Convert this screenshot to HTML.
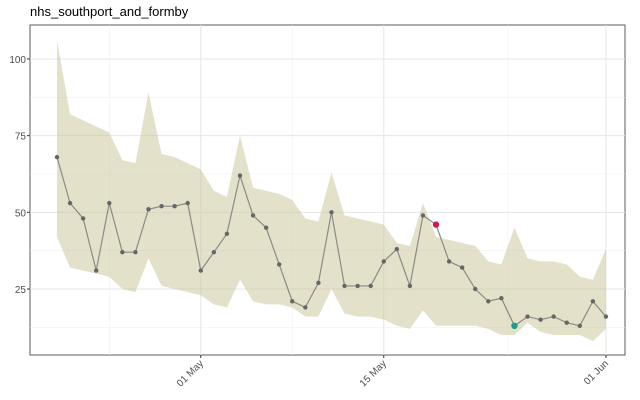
<!DOCTYPE html>
<html><head><meta charset="utf-8"><style>
body{margin:0;background:#fff;}
svg{display:block;font-family:"Liberation Sans",sans-serif;}
</style></head><body>
<svg id="chart" width="640" height="400">
<text x="30" y="16" font-size="13" fill="#000">nhs_southport_and_formby</text>
<g id="grid"></g><g id="band"></g><g id="series"></g><g id="axes"></g>
</svg>
<script>
const values=[68,53,48,31,53,37,37,51,52,52,53,31,37,43,62,49,45,33,21,19,27,50,26,26,26,34,38,26,49,46,34,32,25,21,22,13,16,15,16,14,13,21,16];
const upper=[106,82,80,78,76,67,66,89,69,68,66,64,57,55,75,58,57,56,54,48,47,63,49,48,47,46,40,39,53,42,41,40,39,34,33,45,35,34,34,33,29,28,38];
const lower=[42,32,31,30,29,25,24,35,26,25,24,23,20,19,28,21,20,20,19,16,16,25,17,16,16,15,13,12,18,13,13,13,13,12,10,10,14,11,10,10,10,8,12];
const highIndex=29, lowIndex=35;
const yTicks=[25,50,75,100];
const yMinor=[12.5,37.5,62.5,87.5];
const xTickLabels=["01 May","15 May","01 Jun"];
const xTickIdx=[11,25,42];
const xMinorIdx=[4,18,34.5];
const NS="http://www.w3.org/2000/svg";
const L=30,R=625,T=25,B=355;
const x=i=>57+i*13.07;
const y=v=>289-(v-25)*3.067;
function mk(tag,attrs,parent){const e=document.createElementNS(NS,tag);for(const k in attrs)e.setAttribute(k,attrs[k]);document.getElementById(parent).appendChild(e);return e;}
let e=mk('rect',{x:L,y:T,width:R-L,height:B-T,fill:'#fff',stroke:'#333','stroke-width':0.8},'grid');

yMinor.forEach(v=>{const g=mk('line',{x1:L,x2:R,y1:y(v),y2:y(v),stroke:'#f0f0f0','stroke-width':0.6},'grid');});
xMinorIdx.forEach(i=>{const g=mk('line',{x1:x(i),x2:x(i),y1:T,y2:B,stroke:'#f0f0f0','stroke-width':0.6},'grid');});
yTicks.forEach(v=>{const g=mk('line',{x1:L,x2:R,y1:y(v),y2:y(v),stroke:'#e6e6e6','stroke-width':1},'grid');
const t=mk('text',{x:L-4,y:y(v)+4,'text-anchor':'end','font-size':10,fill:'#4d4d4d'},'axes');t.textContent=v;
const k=mk('line',{x1:L-3,x2:L,y1:y(v),y2:y(v),stroke:'#333'},'axes');});
xTickIdx.forEach((i,j)=>{const g=mk('line',{x1:x(i),x2:x(i),y1:T,y2:B,stroke:'#e6e6e6','stroke-width':1},'grid');
const k=mk('line',{x1:x(i),x2:x(i),y1:B,y2:B+3,stroke:'#333'},'axes');
const t=mk('text',{x:x(i)+3,y:B+9,'text-anchor':'end','font-size':10,fill:'#4d4d4d',transform:`rotate(-45 ${x(i)+3} ${B+9})`},'axes');t.textContent=xTickLabels[j];});
let d=upper.map((v,i)=>(i?'L':'M')+x(i)+','+y(v)).join('');
for(let i=lower.length-1;i>=0;i--)d+='L'+x(i)+','+y(lower[i]);
e=mk('path',{d:d+'Z',fill:'#c8c496','fill-opacity':0.5},'band');
e=mk('polyline',{points:values.map((v,i)=>x(i)+','+y(v)).join(' '),fill:'none',stroke:'#8a8a82','stroke-width':1.2},'series');

values.forEach((v,i)=>{let c='#666',r=2.2,n='data-point';if(i===highIndex){c='#d01c4a';r=3.2;n='high-point';}if(i===lowIndex){c='#1b9e85';r=3.2;n='low-point';}
const p=mk('circle',{cx:x(i),cy:y(v),r:r,fill:c},'series');});
</script>
</body></html>
